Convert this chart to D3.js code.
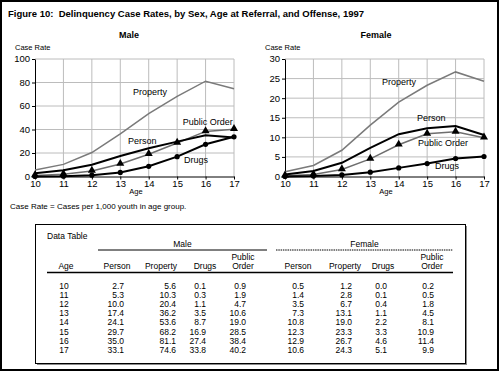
<!DOCTYPE html>
<html>
<head>
<meta charset="utf-8">
<script src="https://cdn.jsdelivr.net/npm/d3@7"></script>
<style>
    body { margin: 0; background: #fff; }
    svg { display: block; font-family: Arial, "Liberation Sans", Helvetica, sans-serif; }
</style>
</head>
<body>
<div id="wrapper"></div>
<script>
// ages on the x axis
const ages = [10, 11, 12, 13, 14, 15, 16, 17];

// Male case rates
const malePerson = [2.7, 5.3, 10.0, 17.4, 24.1, 29.7, 35.0, 33.1];
const maleProperty = [5.6, 10.3, 20.4, 36.2, 53.6, 68.2, 81.1, 74.6];
const maleDrugs = [0.1, 0.3, 1.1, 3.5, 8.7, 16.9, 27.4, 33.8];
const malePublicOrder = [0.9, 1.9, 4.7, 10.6, 19.0, 28.5, 38.4, 40.2];

// Female case rates
const femalePerson = [0.5, 1.4, 3.5, 7.3, 10.8, 12.3, 12.9, 10.6];
const femaleProperty = [1.2, 2.8, 6.7, 13.1, 19.0, 23.3, 26.7, 24.3];
const femaleDrugs = [0.0, 0.1, 0.4, 1.1, 2.2, 3.3, 4.6, 5.1];
const femalePublicOrder = [0.2, 0.5, 1.8, 4.5, 8.1, 10.9, 11.4, 9.9];

// y tick labels
const maleTicks = [0, 20, 40, 60, 80, 100];
const femaleTicks = [0, 5, 10, 15, 20, 25, 30];

const offenses = ["Person", "Property", "Drugs", "Public Order"];

const svg = d3.select("#wrapper").append("svg")
    .attr("width", 500)
    .attr("height", 373);

svg.append("rect").attr("width", 500).attr("height", 373).attr("fill", "#fff");

// outer frame
svg.append("rect")
    .attr("x", 1).attr("y", 1)
    .attr("width", 497).attr("height", 369)
    .attr("fill", "none")
    .attr("stroke", "#000")
    .attr("stroke-width", 2);

svg.append("text")
    .attr("x", 8)
    .attr("y", 17)
    .style("font-weight", "bold")
    .style("font-size", "9.5px")
    .style("white-space", "pre")
    .text("Figure 10:  Delinquency Case Rates, by Sex, Age at Referral, and Offense, 1997");

function buildPlot(opts) {
    const dimension = { left: opts.left, width: 199, top: 59, bottom: 176.5 };

    const xScaler = d3.scaleLinear()
        .domain([10, 17])
        .range([dimension.left, dimension.left + dimension.width]);
    const yScaler = d3.scaleLinear()
        .domain([0, d3.max(opts.ticks)])
        .range([dimension.bottom, dimension.top]);

    const g = svg.append("g");

    // grid
    g.append("g").selectAll("line")
        .data(opts.ticks.slice(1))
        .join("line")
        .attr("x1", xScaler(10)).attr("x2", xScaler(17))
        .attr("y1", d => yScaler(d)).attr("y2", d => yScaler(d))
        .attr("stroke", "#bcbcbc");
    g.append("g").selectAll("line")
        .data(ages.slice(1))
        .join("line")
        .attr("x1", d => xScaler(d)).attr("x2", d => xScaler(d))
        .attr("y1", yScaler(0)).attr("y2", yScaler(d3.max(opts.ticks)))
        .attr("stroke", "#bcbcbc");

    const yAxis = d3.axisLeft(yScaler)
        .tickValues(opts.ticks)
        .tickSize(3)
        .tickSizeOuter(0)
        .tickPadding(2);
    const xAxis = d3.axisBottom(xScaler)
        .tickValues(ages)
        .tickFormat(d3.format("d"))
        .tickSize(3)
        .tickSizeOuter(0)
        .tickPadding(1);

    const ya = g.append("g")
        .attr("transform", `translate(${dimension.left},0)`)
        .call(yAxis);
    const xa = g.append("g")
        .attr("transform", `translate(0,${dimension.bottom})`)
        .call(xAxis);
    [ya, xa].forEach(a => {
        a.selectAll("text").style("font-size", "9.5px").attr("fill", "#000");
        a.selectAll("line").attr("stroke", "#000");
        a.select(".domain").attr("stroke", "#000");
        a.attr("font-family", null);
    });
    ya.selectAll("text").attr("dy", "0.3em");

    const lineGenerator = d3.line()
        .x((d, i) => xScaler(ages[i]))
        .y(d => yScaler(d));

    const series = [
        { values: opts.property, color: "#7a7a7a", width: 1.5 },
        { values: opts.publicOrder, color: "#6e6e6e", width: 1.5 },
        { values: opts.person, color: "#000", width: 2 },
        { values: opts.drugs, color: "#000", width: 2 }
    ];
    series.forEach(s => {
        g.append("path")
            .attr("d", lineGenerator(s.values))
            .attr("fill", "none")
            .attr("stroke", s.color)
            .attr("stroke-width", s.width);
    });

    g.append("g").selectAll("path")
        .data(opts.publicOrder)
        .join("path")
        .attr("d", d3.symbol(d3.symbolTriangle).size(28))
        .attr("transform", (d, i) => `translate(${xScaler(ages[i])},${yScaler(d) - 0.5})`)
        .attr("fill", "#000");
    g.append("g").selectAll("circle")
        .data(opts.drugs)
        .join("circle")
        .attr("cx", (d, i) => xScaler(ages[i]))
        .attr("cy", d => yScaler(d))
        .attr("r", 2.6)
        .attr("fill", "#000");

    // series names
    opts.labels.forEach(l => {
        g.append("text")
            .attr("x", xScaler(l.age))
            .attr("y", yScaler(l.rate))
            .style("font-size", "9px")
            .text(l.text);
    });

    g.append("text")
        .attr("x", opts.titleX)
        .attr("y", 38)
        .attr("text-anchor", "middle")
        .style("font-weight", "bold")
        .style("font-size", "9px")
        .text(opts.title);

    g.append("text")
        .attr("x", dimension.left - 20)
        .attr("y", 50)
        .style("font-size", "7.5px")
        .text("Case Rate");

    g.append("text")
        .attr("x", xScaler(13.55))
        .attr("y", 194)
        .attr("text-anchor", "middle")
        .style("font-size", "7.5px")
        .text("Age");
}

buildPlot({
    left: 35, title: "Male", titleX: 129, ticks: maleTicks,
    person: malePerson, property: maleProperty, drugs: maleDrugs, publicOrder: malePublicOrder,
    labels: [
        { text: "Property", age: 13.45, rate: 69.4 },
        { text: "Public Order", age: 15.2, rate: 43.8 },
        { text: "Person", age: 13.27, rate: 27.7 },
        { text: "Drugs", age: 15.24, rate: 11.5 }
    ]
});

buildPlot({
    left: 285, title: "Female", titleX: 376, ticks: femaleTicks,
    person: femalePerson, property: femaleProperty, drugs: femaleDrugs, publicOrder: femalePublicOrder,
    labels: [
        { text: "Property", age: 13.41, rate: 23.4 },
        { text: "Person", age: 14.64, rate: 14.2 },
        { text: "Public Order", age: 14.68, rate: 7.8 },
        { text: "Drugs", age: 15.28, rate: 1.9 }
    ]
});

svg.append("text")
    .attr("x", 10)
    .attr("y", 209)
    .style("font-size", "8px")
    .text("Case Rate = Cases per 1,000 youth in age group.");

// data table
const table = svg.append("g").style("font-size", "8.5px");

table.append("rect")
    .attr("x", 37).attr("y", 226)
    .attr("width", 430).attr("height", 139)
    .attr("fill", "#8a8a8a");
table.append("rect")
    .attr("x", 35.5).attr("y", 224.5)
    .attr("width", 430).attr("height", 139)
    .attr("fill", "#fff")
    .attr("stroke", "#000");

table.append("text").attr("x", 47).attr("y", 239).text("Data Table");

const groups = [
    { name: "Male", x1: 98, x2: 267, dash: null,
      cols: [malePerson, maleProperty, maleDrugs, malePublicOrder],
      head: [117, 161, 205, 243], right: [124, 176, 206, 246] },
    { name: "Female", x1: 276, x2: 453, dash: "1.5,0.8",
      cols: [femalePerson, femaleProperty, femaleDrugs, femalePublicOrder],
      head: [298, 345, 383, 432], right: [304, 352, 387, 434] }
];

groups.forEach(gr => {
    table.append("text")
        .attr("x", (gr.x1 + gr.x2) / 2)
        .attr("y", 247)
        .attr("text-anchor", "middle")
        .text(gr.name);
    table.append("line")
        .attr("x1", gr.x1).attr("x2", gr.x2)
        .attr("y1", 250).attr("y2", 250)
        .attr("stroke", "#000")
        .attr("stroke-dasharray", gr.dash);

    offenses.forEach((o, j) => {
        if (o === "Public Order") {
            table.append("text").attr("x", gr.head[j]).attr("y", 260)
                .attr("text-anchor", "middle").text("Public");
            table.append("text").attr("x", gr.head[j]).attr("y", 269)
                .attr("text-anchor", "middle").text("Order");
        } else {
            table.append("text").attr("x", gr.head[j]).attr("y", 269)
                .attr("text-anchor", "middle").text(o);
        }
        table.append("g").selectAll("text")
            .data(gr.cols[j])
            .join("text")
            .attr("x", gr.right[j])
            .attr("y", (d, i) => 288.5 + i * 9.2)
            .attr("text-anchor", "end")
            .text(d => d.toFixed(1));
    });
});

table.append("text").attr("x", 66).attr("y", 269).attr("text-anchor", "middle").text("Age");
table.append("g").selectAll("text")
    .data(ages)
    .join("text")
    .attr("x", 64)
    .attr("y", (d, i) => 288.5 + i * 9.2)
    .attr("text-anchor", "middle")
    .text(d => d);

table.append("line")
    .attr("x1", 47).attr("x2", 453)
    .attr("y1", 272.5).attr("y2", 272.5)
    .attr("stroke", "#000")
    .attr("stroke-width", 1.5);
</script>
</body>
</html>
